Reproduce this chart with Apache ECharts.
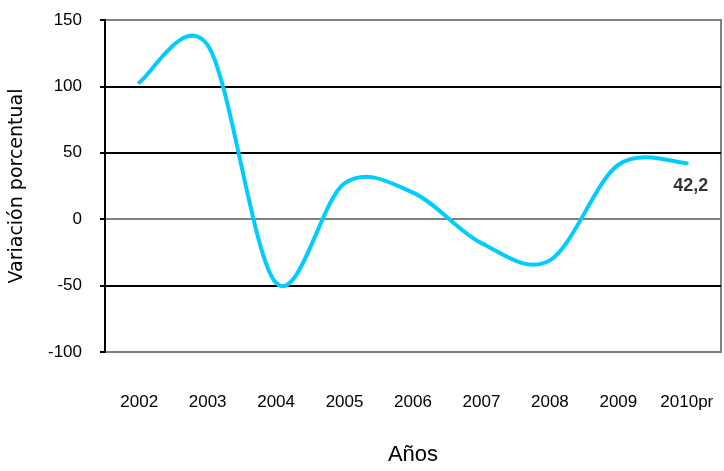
<!DOCTYPE html>
<html>
<head>
<meta charset="utf-8">
<script src="https://cdn.jsdelivr.net/npm/echarts@6/dist/echarts.min.js"></script>
<style>html,body{margin:0;padding:0;background:#fff}#c{width:724px;height:471px}</style>
</head>
<body>
<div id="c"></div>
<script>
const categories = ['2002','2003','2004','2005','2006','2007','2008','2009','2010pr'];
const values = [103, 131, -48, 27, 20, -18, -31, 41, 42.2];
const lastLabel = '42,2';
const yTicks = {min: -100, max: 150, interval: 50};
const blackGridValues = [100, 50, -50];

const sans = '"Liberation Sans", Arial, sans-serif';
const chart = echarts.init(document.getElementById('c'));

// Spreadsheet-style smoothed line (Catmull-Rom Bezier), points mapped through the axes.
function renderCurve(params, api) {
  if (params.dataIndex !== 0) return null;
  const pts = values.map((v, i) => api.coord([i, v]));
  const n = pts.length;
  const path = [];
  path.push('M' + pts[0][0] + ' ' + pts[0][1]);
  for (let i = 0; i < n - 1; i++) {
    const p0 = pts[Math.max(i - 1, 0)];
    const p1 = pts[i];
    const p2 = pts[i + 1];
    const p3 = pts[Math.min(i + 2, n - 1)];
    const c1x = p1[0] + (p2[0] - p0[0]) / 6;
    const c1y = p1[1] + (p2[1] - p0[1]) / 6;
    const c2x = p2[0] - (p3[0] - p1[0]) / 6;
    const c2y = p2[1] - (p3[1] - p1[1]) / 6;
    path.push('C' + c1x + ' ' + c1y + ' ' + c2x + ' ' + c2y + ' ' + p2[0] + ' ' + p2[1]);
  }
  return {
    type: 'path',
    shape: {pathData: path.join(' ')},
    style: {fill: null, stroke: '#00CCFF', lineWidth: 4, lineCap: 'round', lineJoin: 'round'}
  };
}

chart.setOption({
  animation: false,
  backgroundColor: '#fff',
  grid: {left: 105, right: 3, top: 20, bottom: 116, show: true, borderColor: '#808080', borderWidth: 2},
  xAxis: {
    type: 'category', data: categories, boundaryGap: true,
    axisLine: {show: false}, axisTick: {show: false},
    axisLabel: {interval: 0, margin: 42, fontFamily: sans, fontSize: 17, color: '#000'},
    name: 'Años', nameLocation: 'middle', nameGap: 92,
    nameTextStyle: {fontFamily: sans, fontSize: 22, color: '#000'}
  },
  yAxis: {
    type: 'value', min: yTicks.min, max: yTicks.max, interval: yTicks.interval,
    axisLine: {show: true, lineStyle: {color: '#000', width: 2}},
    axisTick: {show: true, length: 5, lineStyle: {color: '#000', width: 2}},
    axisLabel: {margin: 23, fontFamily: sans, fontSize: 17, color: '#000'},
    splitLine: {show: true, lineStyle: {color: '#808080', width: 2}},
    name: 'Variación porcentual', nameLocation: 'middle', nameGap: 78, nameRotate: 90,
    nameTextStyle: {fontFamily: '"DejaVu Sans", sans-serif', fontSize: 19, color: '#000'}
  },
  series: [{
    type: 'custom',
    data: values.map((v, i) => [i, v]),
    renderItem: renderCurve,
    z: 5,
    silent: true,
    markLine: {
      silent: true, symbol: 'none', label: {show: false},
      lineStyle: {color: '#000', width: 2, type: 'solid'},
      data: blackGridValues.map(v => ({yAxis: v}))
    }
  }, {
    type: 'scatter',
    data: values.map((v, i) => i === values.length - 1 ? {
      value: [i, v],
      label: {show: true, formatter: lastLabel, position: 'bottom', distance: 5, offset: [4, 8],
        fontFamily: sans, fontWeight: 'bold', fontSize: 18, color: '#000'}
    } : {value: [i, v], label: {show: false}}),
    symbolSize: 2,
    itemStyle: {color: 'rgba(0,0,0,0)'},
    silent: true,
    z: 6
  }]
});
</script>
</body>
</html>
